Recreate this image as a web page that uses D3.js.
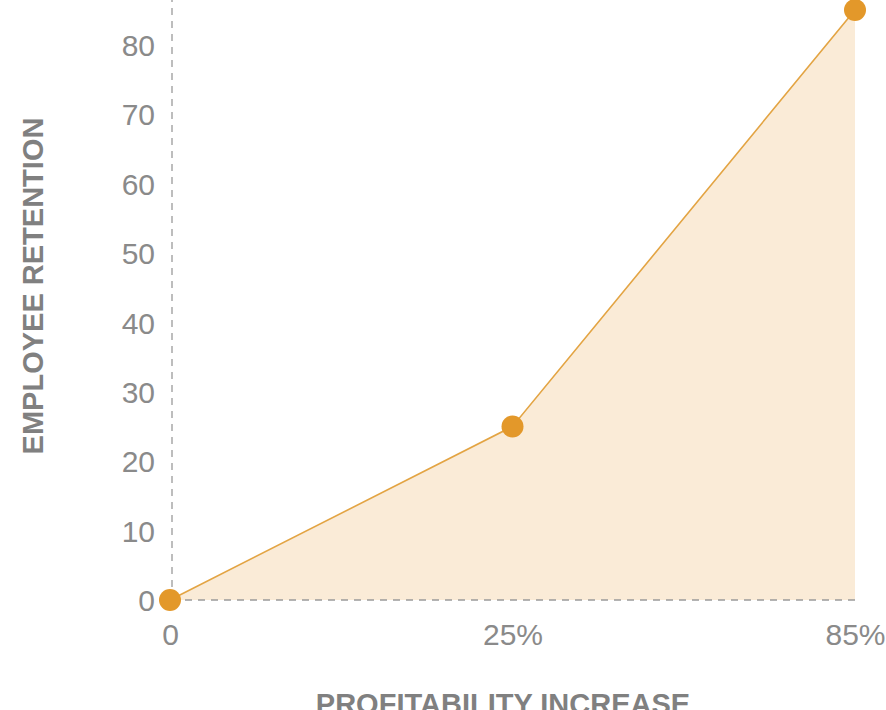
<!DOCTYPE html>
<html>
<head>
<meta charset="utf-8">
<script src="https://cdn.jsdelivr.net/npm/d3@7/dist/d3.min.js"></script>
<style>
  html, body { margin: 0; padding: 0; background: #fff; overflow: hidden; }
  svg { display: block; font-family: "Liberation Sans", Arial, sans-serif; }
</style>
</head>
<body>
<svg id="chart" width="886" height="710"></svg>
<script>
// Profitability increase vs. employee retention
const categories = ["0", "25%", "85%"];
const retention = [0, 25, 85];
const yTicks = [0, 10, 20, 30, 40, 50, 60, 70, 80];

const svg = d3.select("#chart");

const x = d3.scalePoint().domain(categories).range([170, 855]);
const y = d3.scaleLinear().domain([0, 85]).range([600, 10]);

const pts = categories.map((c, i) => ({ c, v: retention[i] }));

// filled area under the line
svg.append("path")
  .datum(pts)
  .attr("fill", "#faebd7")
  .attr("d", d3.area().x(d => x(d.c)).y0(y(0)).y1(d => y(d.v)));

// dashed baseline and vertical axis guide
svg.append("line")
  .attr("x1", x(categories[0]) + 2).attr("x2", x(categories[categories.length - 1]))
  .attr("y1", y(0)).attr("y2", y(0))
  .attr("stroke", "#9a9a9a").attr("stroke-width", 1.3)
  .attr("stroke-dasharray", "7,6");
svg.append("line")
  .attr("x1", x(categories[0]) + 2).attr("x2", x(categories[0]) + 2)
  .attr("y1", y(0)).attr("y2", 0)
  .attr("stroke", "#9a9a9a").attr("stroke-width", 1.3)
  .attr("stroke-dasharray", "7,6");

// line
svg.append("path")
  .datum(pts)
  .attr("fill", "none")
  .attr("stroke", "#e3a443")
  .attr("stroke-width", 1.6)
  .attr("d", d3.line().x(d => x(d.c)).y(d => y(d.v)));

// points
svg.append("g").selectAll("circle")
  .data(pts).join("circle")
  .attr("cx", d => x(d.c)).attr("cy", d => y(d.v))
  .attr("r", 11)
  .attr("fill", "#e3982a");

// y axis labels
const yAxis = d3.axisLeft(y).tickValues(yTicks).tickSize(0).tickPadding(0);
const gy = svg.append("g").attr("transform", "translate(155,0)").call(yAxis);
gy.select(".domain").remove();
gy.selectAll("text")
  .attr("fill", "#8a8a8a")
  .style("font-size", "30px")
  .attr("dy", "0.36em");

// x axis labels
const xAxis = d3.axisBottom(x).tickSize(0).tickPadding(0);
const gx = svg.append("g").attr("transform", "translate(0,624)").call(xAxis);
gx.select(".domain").remove();
gx.selectAll("text")
  .attr("fill", "#8a8a8a")
  .style("font-size", "30px")
  .attr("dy", "0.71em");

// axis titles
svg.append("text")
  .attr("transform", "translate(43,286) rotate(-90)")
  .attr("text-anchor", "middle")
  .attr("fill", "#808080")
  .style("font-size", "29px")
  .style("font-weight", "bold")
  .text("EMPLOYEE RETENTION");

svg.append("text")
  .attr("x", 503).attr("y", 714)
  .attr("text-anchor", "middle")
  .attr("fill", "#808080")
  .style("font-size", "29px")
  .style("font-weight", "bold")
  .text("PROFITABILITY INCREASE");
</script>
</body>
</html>
